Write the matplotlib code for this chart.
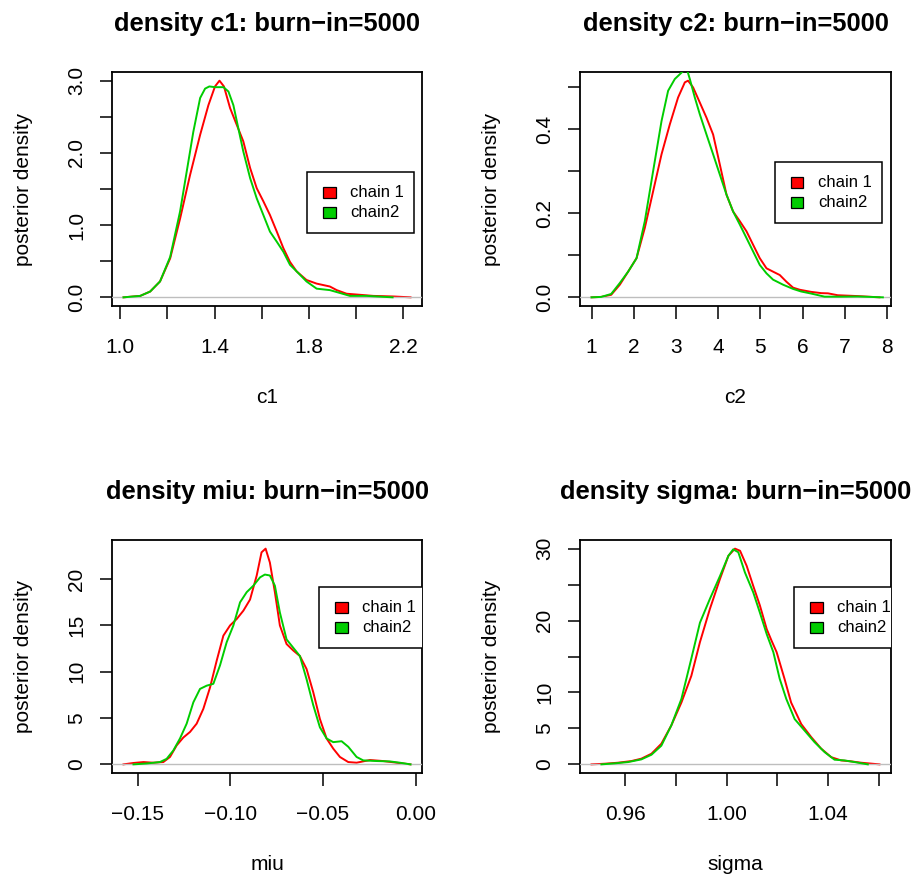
import matplotlib
matplotlib.use("Agg")
import matplotlib.pyplot as plt
from matplotlib.patches import Rectangle

plt.rcParams['font.family'] = ['Liberation Sans', 'DejaVu Sans']

# ---- data ----
# c1
c1_x1 = [1.014, 1.085, 1.127, 1.169, 1.212, 1.254, 1.296, 1.339, 1.374, 1.402, 1.421, 1.44, 1.466,
         1.494, 1.522, 1.551, 1.579, 1.607, 1.635, 1.664, 1.692, 1.72, 1.748, 1.79, 1.833, 1.889,
         1.918, 1.96, 2.017, 2.073, 2.158, 2.231]
c1_y1 = [0.0, 0.02, 0.08, 0.22, 0.54, 1.09, 1.69, 2.25, 2.66, 2.92, 3.0, 2.92, 2.62,
         2.39, 2.16, 1.79, 1.51, 1.33, 1.14, 0.91, 0.68, 0.49, 0.36, 0.24, 0.19, 0.15,
         0.1, 0.05, 0.035, 0.02, 0.012, 0.0]
c1_x2 = [1.014, 1.085, 1.127, 1.169, 1.212, 1.254, 1.282, 1.31, 1.339, 1.36, 1.378, 1.402, 1.438,
         1.459, 1.48, 1.501, 1.522, 1.551, 1.579, 1.607, 1.635, 1.664, 1.692, 1.72, 1.748, 1.79,
         1.833, 1.889, 1.932, 1.974, 2.045, 2.155]
c1_y2 = [0.0, 0.02, 0.08, 0.22, 0.56, 1.19, 1.74, 2.29, 2.76, 2.89, 2.92, 2.91, 2.91,
         2.85, 2.66, 2.34, 2.02, 1.65, 1.37, 1.14, 0.91, 0.77, 0.63, 0.45, 0.36, 0.22,
         0.12, 0.1, 0.06, 0.02, 0.02, 0.0]

# c2
c2_x1 = [1.0, 1.229, 1.466, 1.67, 1.867, 2.066, 2.262, 2.459, 2.658, 2.854, 3.05, 3.21, 3.287,
         3.406, 3.565, 3.723, 3.88, 4.038, 4.197, 4.353, 4.512, 4.67, 4.827, 4.985, 5.144, 5.3,
         5.459, 5.617, 5.774, 5.933, 6.2, 6.44, 6.6, 6.83, 7.3, 7.82]
c2_y1 = [0.0, 0.001, 0.006, 0.03, 0.061, 0.093, 0.165, 0.252, 0.34, 0.411, 0.475, 0.511, 0.515,
         0.499, 0.463, 0.427, 0.387, 0.316, 0.244, 0.204, 0.181, 0.157, 0.125, 0.093, 0.069, 0.061,
         0.053, 0.037, 0.023, 0.018, 0.013, 0.01, 0.0095, 0.005, 0.003, 0.0]
c2_x2 = [1.0, 1.229, 1.466, 1.67, 1.867, 2.066, 2.262, 2.459, 2.658, 2.814, 2.973, 3.131, 3.25,
         3.328, 3.446, 3.565, 3.723, 3.88, 4.038, 4.197, 4.353, 4.512, 4.67, 4.827, 4.985, 5.144,
         5.3, 5.537, 5.774, 5.96, 6.2, 6.52, 6.91, 7.3, 7.9]
c2_y2 = [0.0, 0.001, 0.008, 0.034, 0.061, 0.093, 0.181, 0.3, 0.419, 0.491, 0.519, 0.534, 0.545,
         0.519, 0.475, 0.435, 0.387, 0.34, 0.292, 0.244, 0.204, 0.173, 0.141, 0.109, 0.077, 0.057,
         0.042, 0.03, 0.02, 0.014, 0.009, 0.0016, 0.0016, 0.002, 0.0]

# miu
miu_x1 = [-0.1577, -0.1523, -0.1469, -0.1416, -0.1362, -0.1326, -0.129, -0.1254, -0.1218, -0.1182,
          -0.1146, -0.111, -0.1074, -0.1038, -0.1002, -0.0966, -0.093, -0.0894, -0.0858, -0.0832,
          -0.081, -0.0787, -0.076, -0.0733, -0.0697, -0.0661, -0.0625, -0.0589, -0.0553, -0.0517,
          -0.0481, -0.0445, -0.0409, -0.0364, -0.0319, -0.0247, -0.0176, -0.0104, -0.0028]
miu_y1 = [0.0, 0.15, 0.25, 0.18, 0.25, 0.8, 2.05, 2.9, 3.5, 4.4,
          6.0, 8.3, 11.2, 13.9, 15.0, 15.7, 16.6, 17.8, 20.4, 22.9,
          23.3, 21.8, 18.6, 15.0, 13.0, 12.3, 11.7, 10.3, 7.8, 4.9,
          2.8, 1.7, 0.8, 0.25, 0.18, 0.47, 0.36, 0.18, 0.0]
miu_x2 = [-0.1523, -0.1451, -0.138, -0.1344, -0.1308, -0.1272, -0.1236, -0.12, -0.1164, -0.1128,
          -0.1092, -0.1056, -0.102, -0.0984, -0.0948, -0.0912, -0.0876, -0.084, -0.0814, -0.0787,
          -0.076, -0.0733, -0.0697, -0.0661, -0.0625, -0.0589, -0.0553, -0.0517, -0.0481, -0.0445,
          -0.04, -0.0364, -0.0319, -0.0283, -0.0211, -0.014, -0.0086, -0.0028]
miu_y2 = [0.0, 0.1, 0.25, 0.6, 1.5, 2.8, 4.4, 6.7, 8.15, 8.5,
          8.7, 10.7, 13.2, 15.0, 17.5, 18.6, 19.3, 20.2, 20.5, 20.4,
          19.3, 16.4, 13.5, 12.6, 11.7, 9.2, 6.4, 4.0, 2.8, 2.4,
          2.5, 1.9, 0.8, 0.43, 0.36, 0.32, 0.18, 0.0]

# sigma
sig_x1 = [0.9468, 0.952, 0.9572, 0.9625, 0.9664, 0.9704, 0.9743, 0.9782, 0.9822, 0.9861,
          0.9895, 0.9934, 0.9974, 1.0007, 1.0033, 1.0053, 1.0079, 1.0105, 1.0131, 1.0158,
          1.0177, 1.0197, 1.0228, 1.0254, 1.0294, 1.0333, 1.0372, 1.0412, 1.0451, 1.049,
          1.053, 1.0602]
sig_y1 = [0.0, 0.09, 0.23, 0.46, 0.79, 1.48, 2.87, 5.4, 8.6, 12.3,
          17.0, 21.6, 25.8, 29.0, 30.0, 29.7, 27.6, 24.8, 22.1, 18.8,
          17.2, 15.6, 11.9, 8.6, 5.6, 3.8, 2.2, 1.0, 0.55, 0.42,
          0.23, 0.0]
sig_x2 = [0.9507, 0.9559, 0.9612, 0.9664, 0.9704, 0.9743, 0.9782, 0.9822, 0.9861, 0.9895,
          0.9934, 0.9974, 1.0007, 1.0026, 1.0046, 1.0072, 1.0105, 1.0131, 1.0158, 1.0184,
          1.0209, 1.0235, 1.0268, 1.0307, 1.0346, 1.0386, 1.0425, 1.0464, 1.0504, 1.0556]
sig_y2 = [0.0, 0.14, 0.32, 0.69, 1.34, 2.6, 5.4, 9.1, 14.7, 19.7,
          23.0, 26.2, 29.0, 29.9, 29.5, 26.7, 23.9, 21.1, 18.1, 15.6,
          11.9, 9.1, 6.3, 4.7, 3.1, 1.7, 0.65, 0.55, 0.32, 0.0]

# ticks
c1_xticks = [1.0, 1.2, 1.4, 1.6, 1.8, 2.0, 2.2]
c1_xlabels = ['1.0', '', '1.4', '', '1.8', '', '2.2']
c1_yticks = [0.0, 0.5, 1.0, 1.5, 2.0, 2.5, 3.0]
c1_ylabels = ['0.0', '', '1.0', '', '2.0', '', '3.0']
c2_xticks = [1, 2, 3, 4, 5, 6, 7, 8]
c2_xlabels = ['1', '2', '3', '4', '5', '6', '7', '8']
c2_yticks = [0.0, 0.1, 0.2, 0.3, 0.4, 0.5]
c2_ylabels = ['0.0', '', '0.2', '', '0.4', '']
miu_xticks = [-0.15, -0.10, -0.05, 0.00]
miu_xlabels = ['\u22120.15', '\u22120.10', '\u22120.05', '0.00']
miu_yticks = [0, 5, 10, 15, 20]
miu_ylabels = ['0', '5', '10', '15', '20']
sig_xticks = [0.96, 0.98, 1.00, 1.02, 1.04, 1.06]
sig_xlabels = ['0.96', '', '1.00', '', '1.04', '']
sig_yticks = [0, 5, 10, 15, 20, 25, 30]
sig_ylabels = ['0', '5', '10', '', '20', '', '30']

legend_labels = ['chain 1', 'chain2']
red = '#FF0000'
green = '#00CD00'

W, H = 917, 877
fig = plt.figure(figsize=(W / 100, H / 100), dpi=100)

# (name, red, green, ticks, axes box in px: left, right, top, bottom, legend offset px)
panels = [
    ('c1', (c1_x1, c1_y1), (c1_x2, c1_y2), (c1_xticks, c1_xlabels, c1_yticks, c1_ylabels),
     (112, 422, 72, 306), (195, 100)),
    ('c2', (c2_x1, c2_y1), (c2_x2, c2_y2), (c2_xticks, c2_xlabels, c2_yticks, c2_ylabels),
     (580, 891, 72, 306), (195, 90)),
    ('miu', (miu_x1, miu_y1), (miu_x2, miu_y2), (miu_xticks, miu_xlabels, miu_yticks, miu_ylabels),
     (112, 422, 540, 773), (207, 47)),
    ('sigma', (sig_x1, sig_y1), (sig_x2, sig_y2), (sig_xticks, sig_xlabels, sig_yticks, sig_ylabels),
     (580, 891, 540, 773), (214, 47)),
]

for name, (rx, ry), (gx, gy), (xt, xl, yt, yl), (l, r, t, b), (lgx, lgy) in panels:
    aw, ah = r - l, b - t
    ax = fig.add_axes([l / W, 1 - b / H, aw / W, ah / H])

    ax.plot(rx, ry, color=red, lw=1.4, zorder=2, solid_joinstyle='round')
    ax.axhline(0, color='#BEBEBE', lw=1.0, zorder=3)
    ax.plot(gx, gy, color=green, lw=1.4, zorder=4, solid_joinstyle='round')

    # R style limits: range of first chain + 4%
    x0, x1 = min(rx), max(rx)
    y1 = max(ry)
    ax.set_xlim(x0 - 0.04 * (x1 - x0), x1 + 0.04 * (x1 - x0))
    ax.set_ylim(-0.04 * y1, 1.04 * y1)

    ax.set_xticks(xt)
    ax.set_xticklabels(xl)
    ax.set_yticks(yt)
    ax.set_yticklabels(yl)
    ax.tick_params(direction='out', length=9, width=1.1, labelsize=15, colors='black')
    ax.tick_params(axis='x', pad=14)
    ax.tick_params(axis='y', pad=9.7)
    for lab in ax.get_yticklabels():
        lab.set_rotation(90)
        lab.set_va('center')
    for s in ax.spines.values():
        s.set_linewidth(1.3)

    ax.set_title(f'density {name}: burn\u2212in=5000', fontsize=18.4, fontweight='bold', pad=29.5)
    ax.set_xlabel(name, fontsize=15)
    ax.xaxis.set_label_coords(0.5, -82 / ah)
    ax.set_ylabel('posterior density', fontsize=15)
    ax.yaxis.set_label_coords(-79 / aw, 0.5)

    # legend box drawn by hand so that it is clipped like R's
    lx, ty = lgx / aw, 1 - lgy / ah
    ax.add_patch(Rectangle((lx, ty - 61 / ah), 107 / aw, 61 / ah, transform=ax.transAxes,
                           facecolor='white', edgecolor='black', lw=1.1, zorder=6))
    for i, (lab, col) in enumerate(zip(legend_labels, [red, green])):
        row = ty - (20.5 + 20 * i) / ah
        ax.add_patch(Rectangle((lx + 16 / aw, row - 5.5 / ah), 12.5 / aw, 11 / ah,
                               transform=ax.transAxes, facecolor=col, edgecolor='black',
                               lw=0.9, zorder=7))
        ax.text(lx + 43 / aw, row, lab, transform=ax.transAxes, fontsize=12,
                va='center', ha='left', clip_on=True, zorder=8)

fig.savefig('out.png', dpi=100)
